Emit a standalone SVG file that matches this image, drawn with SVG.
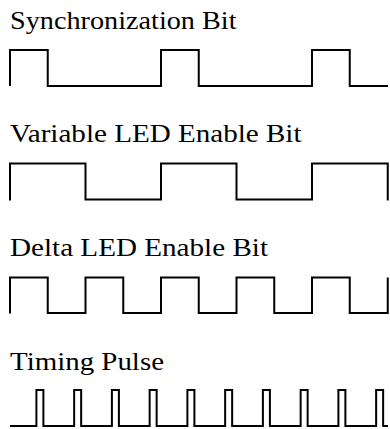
<svg xmlns="http://www.w3.org/2000/svg" width="390" height="429" viewBox="0 0 390 429">
<defs>
<style type="text/css">
text { font-family: 'Liberation Serif', 'DejaVu Serif', serif; font-size: 25.5px; fill: #000; }
.wave { fill: none; stroke: #000; stroke-width: 2; stroke-linejoin: miter; stroke-linecap: butt; }
</style>
</defs>
<rect width="390" height="429" fill="#fff"/>
<g id="sync">
<text x="10" y="28.5" textLength="226.5" lengthAdjust="spacingAndGlyphs">Synchronization Bit</text>
<path class="wave" d="M10,86 V50 H47.75 V86 H161 V50 H198.75 V86 H312 V50 H349.75 V86 H388"/>
</g>
<g id="variable">
<text x="10" y="142" textLength="291.5" lengthAdjust="spacingAndGlyphs">Variable LED Enable Bit</text>
<path class="wave" d="M10,200.5 V163.5 H85.5 V199.5 H161 V163.5 H236.5 V199.5 H312 V163.5 H387.75 V200.5"/>
</g>
<g id="delta">
<text x="10" y="255.5" textLength="258" lengthAdjust="spacingAndGlyphs">Delta LED Enable Bit</text>
<path class="wave" d="M10,313.5 V277.5 H47.75 V313 H85.5 V277.5 H123.25 V313 H161 V277.5 H198.75 V313 H236.5 V277.5 H274.25 V313 H312 V277.5 H349.75 V313 H387.75 V277.5"/>
</g>
<g id="timing">
<text x="10" y="369.5" textLength="154" lengthAdjust="spacingAndGlyphs">Timing Pulse</text>
<path class="wave" d="M10,426 H36.4 V390 H43.4 V426 H74.15 V390 H81.15 V426 H111.9 V390 H118.9 V426 H149.65 V390 H156.65 V426 H187.4 V390 H194.4 V426 H225.15 V390 H232.15 V426 H262.9 V390 H269.9 V426 H300.65 V390 H307.65 V426 H338.4 V390 H345.4 V426 H376.15 V390 H383.15 V426 H388"/>
</g>
</svg>
